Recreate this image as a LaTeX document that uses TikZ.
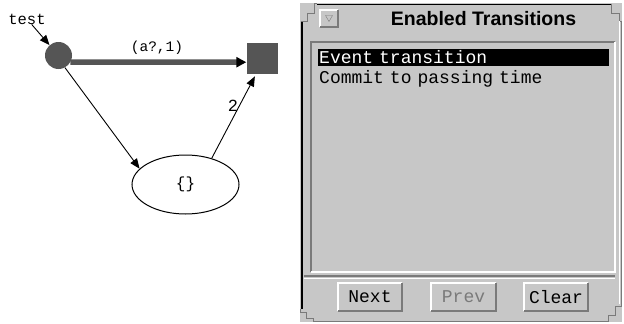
\documentclass[tikz,border=0pt]{standalone}
\usepackage{fontspec}
\setmonofont{Liberation Mono}
\setsansfont{Liberation Sans}
\usetikzlibrary{arrows.meta,shapes.geometric}

\definecolor{panel}{RGB}{199,199,199}
\definecolor{token}{RGB}{85,85,85}
\definecolor{edgegray}{RGB}{122,122,122}

\tikzset{
  place/.style={circle, fill=token, minimum size=27pt, inner sep=0pt},
  final/.style={rectangle, fill=token, minimum size=31pt, inner sep=0pt},
  urgent/.style={ellipse, draw, line width=1pt, minimum width=107pt, minimum height=59pt, inner sep=0pt,
    font=\ttfamily\fontsize{16}{16}\selectfont},
  arc/.style={-{Triangle[length=10pt,width=8pt]}, line width=0.9pt},
  lbl/.style={inner sep=0pt, font=\ttfamily\fontsize{14.5}{14.5}\selectfont},
  item/.style={anchor=west, minimum width=291pt, minimum height=17pt, text width=289pt,
    inner xsep=1pt, inner ysep=0pt, align=left, font=\ttfamily\fontsize{18}{18}\selectfont},
  button/.style={fill=panel, minimum width=64pt, minimum height=28pt, inner sep=0pt,
    font=\ttfamily\fontsize{18}{18}\selectfont},
  title/.style={inner sep=0pt, font=\sffamily\bfseries\fontsize{19.5}{20}\selectfont}
}

% bevelled edges of the widgets
\newcommand{\raisedbevel}[1]{%
  \draw[white, line width=2pt] (#1.south west) |- (#1.north east);
  \draw[edgegray, line width=2pt] (#1.south west) -| (#1.north east);}
\newcommand{\sunkenbevel}[1]{%
  \draw[edgegray, line width=2pt] (#1.south west) |- (#1.north east);
  \draw[white, line width=2pt] (#1.south west) -| (#1.north east);}

\begin{document}
\begin{tikzpicture}[x=1pt, y=-1pt]
  \useasboundingbox (0,0) rectangle (624,324);

  % locations
  \node[lbl, font=\ttfamily\fontsize{15.5}{15.5}\selectfont] (test) at (27,19) {test};
  \node[place] (init) at (58.5,55.5) {};
  \node[final] (goal) at (262,58) {};
  \node[urgent] (wait) at (185.5,184.5) {\{\}};

  % edges
  \draw[arc] (test) -- (init);
  \draw[token, line width=5.5pt, -{Triangle[length=10pt,width=10pt,color=black]}] (init.-29) -- (goal.-165);
  \draw[arc] (init.-62) -- (wait.161);
  \draw[arc, shorten >=3pt] (wait.45) -- (goal.250);

  % edge labels
  \node[lbl] (sync) at (157,48) {(a?,1)};
  \node[lbl, font=\ttfamily\fontsize{17}{17}\selectfont] (weight) at (233,106) {2};

  % window frame
  \fill[panel] (300,3) rectangle (622,322);
  \draw[black, line width=1.5pt] (302,21) -- (302,309);
  \draw[black, line width=1.5pt] (317,4.5) -- (611,4.5);
  \draw[edgegray] (300.5,21) -- (307,21) -- (307,13) -- (314,13) -- (314,3.5) -- (317,3.5);
  \draw[edgegray] (611,3.5) -- (611,13) -- (619,13) -- (619,21) -- (621.5,21) -- (621.5,306);
  \draw[edgegray] (300.5,309) -- (300.5,312) -- (306,312) -- (306,318) -- (313,318) -- (313,321.5) -- (608,321.5);
  \draw[edgegray] (608,321.5) -- (608,315) -- (615,315) -- (615,306) -- (621.5,306);
  \draw[white] (619,21) -- (619,304);

  % title bar
  \node[fill=panel, minimum size=17pt, inner sep=0pt] (menu) at (329,18.5) {};
  \raisedbevel{menu}
  \draw[edgegray] (325.5,15.5) -- (332.5,15.5) -- (329,21.5) -- cycle;
  \node[title] (caption) at (483.5,19) {Enabled Transitions};

  % transition list
  \node[fill=panel, minimum width=304pt, minimum height=230pt, inner sep=0pt] (list) at (463,157) {};
  \sunkenbevel{list}
  \node[item, fill=black, text=white] (event) at (318,57.5) {Event transition};
  \node[item] (commit) at (318,79) {Commit to passing time};

  % buttons
  \draw[edgegray, line width=1.5pt] (304,276) -- (615,276);
  \draw[white] (304,278) -- (615,278);
  \node[button] (next) at (370,297) {Next};
  \node[button, text=edgegray] (prev) at (463.5,297) {Prev};
  \node[button] (clear) at (556,297) {Clear};
  \foreach \b in {next,prev,clear} {\raisedbevel{\b}}
\end{tikzpicture}
\end{document}
